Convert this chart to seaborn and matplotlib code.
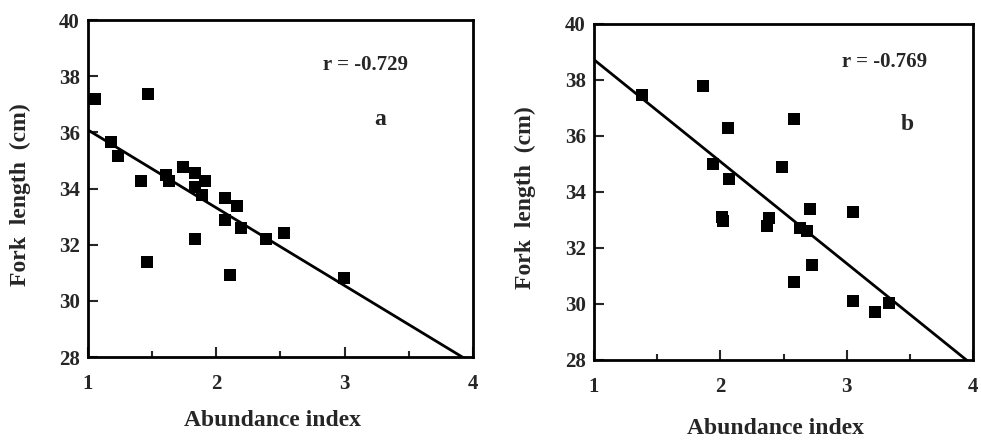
import numpy as np
import pandas as pd
import seaborn as sns
import matplotlib.pyplot as plt
from matplotlib.ticker import MultipleLocator

# panel a: abundance index vs fork length
abund_a = [1.055, 1.466, 1.18, 1.237, 1.414, 1.61, 1.63, 1.74, 1.836, 1.914, 1.836,
           1.89, 2.065, 2.16, 2.065, 2.19, 2.39, 2.53, 1.83, 1.46, 2.11, 2.995]
fork_a = [37.2, 37.35, 35.67, 35.17, 34.27, 34.48, 34.27, 34.78, 34.56, 34.27, 34.06,
          33.77, 33.67, 33.39, 32.88, 32.58, 32.2, 32.4, 32.19, 31.37, 30.92, 30.82]

# panel b
abund_b = [1.376, 1.863, 2.062, 2.585, 1.94, 2.07, 2.49, 2.01, 2.018, 2.386, 2.373,
           2.71, 3.047, 2.627, 2.689, 2.728, 2.58, 3.047, 3.223, 3.337]
fork_b = [37.46, 37.79, 36.27, 36.6, 34.99, 34.46, 34.88, 33.1, 32.98, 33.08, 32.79,
          33.38, 33.29, 32.7, 32.62, 31.39, 30.8, 30.11, 29.7, 30.02]

r_labels = ["r = -0.729", "r = -0.769"]
panel_labels = ["a", "b"]

sns.set_theme(style="ticks")
plt.rcParams['font.family'] = ['Liberation Serif', 'DejaVu Serif']
plt.rcParams['font.weight'] = 'bold'

fig = plt.figure(figsize=(9.81, 4.4), dpi=100)
W, H = 981, 440
boxes = [(88, 20, 473, 357), (594, 24, 973, 360)]
xlab_y = [420, 428]
ylab_x = [20, 525]
r_pos = [(3.16, 38.4), (3.3, 38.65)]
p_pos = [(3.28, 36.45), (3.48, 36.4)]

for i, (xs, ys) in enumerate([(abund_a, fork_a), (abund_b, fork_b)]):
    l, t, r, b = boxes[i]
    ax = fig.add_axes([l / W, 1 - b / H, (r - l) / W, (b - t) / H])
    df = pd.DataFrame({'abund': xs, 'fork': ys})
    ax.set_xlim(1, 4)
    ax.set_ylim(28, 40)
    # fitted line spans the whole x range, clipped at the bottom
    sns.regplot(data=df, x='abund', y='fork', ax=ax, scatter=False, ci=None,
                truncate=False, color='black', line_kws={'lw': 2})
    sns.scatterplot(data=df, x='abund', y='fork', ax=ax, marker='s', s=80,
                    color='black', edgecolor='black', linewidth=0)
    ax.set_xlim(1, 4)
    ax.set_ylim(28, 40)
    ax.xaxis.set_major_locator(MultipleLocator(1))
    ax.xaxis.set_minor_locator(MultipleLocator(0.5))
    ax.yaxis.set_major_locator(MultipleLocator(2))
    ax.tick_params(axis='both', which='both', direction='in', width=1.5,
                   labelsize=15, top=False, right=False)
    ax.tick_params(axis='x', which='major', length=7, pad=12)
    ax.tick_params(axis='x', which='minor', length=4)
    ax.tick_params(axis='y', which='major', length=7, pad=6)
    for lab in ax.get_xticklabels() + ax.get_yticklabels():
        lab.set_fontweight('bold')
    for sp in ax.spines.values():
        sp.set_visible(True)
        sp.set_linewidth(2)
        sp.set_color('black')
    ax.set_xlabel('')
    ax.set_ylabel('')
    ax.text(*r_pos[i], r_labels[i], ha='center', va='center', fontsize=15,
            fontweight='bold')
    ax.text(*p_pos[i], panel_labels[i], ha='center', va='center', fontsize=17,
            fontweight='bold')
    fig.text(((l + r) / 2 - 8) / W, 1 - xlab_y[i] / H, 'Abundance index',
             ha='center', va='center', fontsize=17, fontweight='bold')
    fig.text(ylab_x[i] / W, 1 - ((t + b) / 2 + 6) / H, 'Fork  length  (cm)',
             ha='center', va='center', rotation=90, fontsize=17, fontweight='bold')

fig.savefig('out.png', dpi=100)
